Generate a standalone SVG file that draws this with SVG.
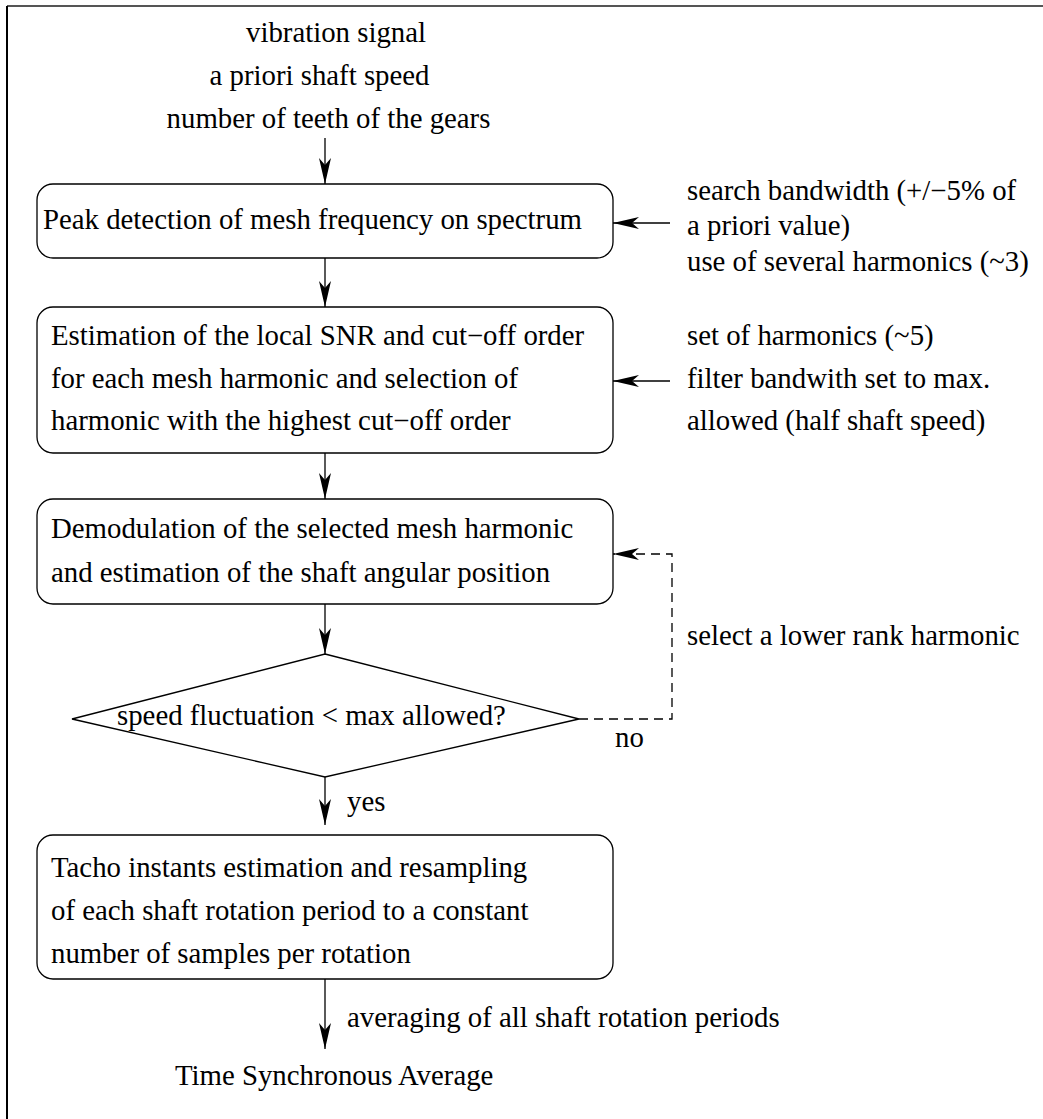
<svg xmlns="http://www.w3.org/2000/svg" width="1043" height="1119" viewBox="0 0 1043 1119">
<style>
.t{font-family:'Liberation Serif','Times New Roman',Times,serif;font-size:28.8px;fill:#000}
.box{fill:#fff;stroke:#000;stroke-width:1.3}
.ln{fill:none;stroke:#000;stroke-width:1.3}
.dash{fill:none;stroke:#000;stroke-width:1.3;stroke-dasharray:9 6}
</style>
<defs>
<marker id="ah" markerUnits="userSpaceOnUse" orient="auto" refX="0" refY="0" markerWidth="30" markerHeight="14" viewBox="-28 -7 30 14" overflow="visible">
<path d="M0,0 L-26,-6 L-19,0 L-26,6 Z" fill="#000"/>
</marker>
</defs>
<rect width="1043" height="1119" fill="#fff"/>
<g id="frame">
<line x1="7" y1="6" x2="1043" y2="6" stroke="#555" stroke-width="2"/>
<line x1="7" y1="6" x2="7" y2="1119" stroke="#000" stroke-width="2"/>
</g>
<g class="t" font-family="Liberation Serif, serif">
<g id="inputs">
<text x="336" y="42" text-anchor="middle">vibration signal</text>
<text x="319.5" y="85" text-anchor="middle">a priori shaft speed</text>
<text x="328.5" y="128" text-anchor="middle">number of teeth of the gears</text>
</g>
<g id="peak">
<rect class="box" x="37" y="184" width="576" height="74" rx="16"/>
<text x="43" y="229">Peak detection of mesh frequency on spectrum</text>
</g>
<g id="peak-params">
<text x="687" y="200">search bandwidth (+/−5% of</text>
<text x="687" y="235">a priori value)</text>
<text x="687" y="271">use of several harmonics (~3)</text>
</g>
<g id="snr">
<rect class="box" x="37" y="307" width="576" height="146" rx="16"/>
<text x="51" y="345">Estimation of the local SNR and cut−off order</text>
<text x="51" y="388">for each mesh harmonic and selection of</text>
<text x="51" y="430">harmonic with the highest cut−off order</text>
</g>
<g id="snr-params">
<text x="687" y="345">set of harmonics (~5)</text>
<text x="687" y="388">filter bandwith set to max.</text>
<text x="687" y="430">allowed (half shaft speed)</text>
</g>
<g id="demod">
<rect class="box" x="37" y="499" width="576" height="105" rx="16"/>
<text x="51" y="538">Demodulation of the selected mesh harmonic</text>
<text x="51" y="582">and estimation of the shaft angular position</text>
</g>
<g id="decision">
<polygon class="box" points="325,654 579,719 325,777 72,719"/>
<text x="117" y="725">speed fluctuation &lt; max allowed?</text>
</g>
<g id="tacho">
<rect class="box" x="37" y="835" width="576" height="144" rx="16"/>
<text x="51" y="877">Tacho instants estimation and resampling</text>
<text x="51" y="920">of each shaft rotation period to a constant</text>
<text x="51" y="963">number of samples per rotation</text>
</g>
<g id="output">
<text x="175" y="1085">Time Synchronous Average</text>
</g>
<g id="connectors">
<line class="ln" x1="325" y1="138" x2="325" y2="184" marker-end="url(#ah)"/>
<line class="ln" x1="670" y1="223" x2="613" y2="223" marker-end="url(#ah)"/>
<line class="ln" x1="325" y1="258" x2="325" y2="307" marker-end="url(#ah)"/>
<line class="ln" x1="670" y1="381" x2="613" y2="381" marker-end="url(#ah)"/>
<line class="ln" x1="325" y1="453" x2="325" y2="499" marker-end="url(#ah)"/>
<line class="ln" x1="325" y1="604" x2="325" y2="654" marker-end="url(#ah)"/>
<polyline class="dash" points="579,719 672,719 672,554 613,554" marker-end="url(#ah)"/>
<text x="687" y="645">select a lower rank harmonic</text>
<text x="615" y="747">no</text>
<line class="ln" x1="325" y1="777" x2="325" y2="825" marker-end="url(#ah)"/>
<text x="347" y="811">yes</text>
<line class="ln" x1="325" y1="979" x2="325" y2="1049" marker-end="url(#ah)"/>
<text x="347" y="1027">averaging of all shaft rotation periods</text>
</g>
</g>
</svg>
